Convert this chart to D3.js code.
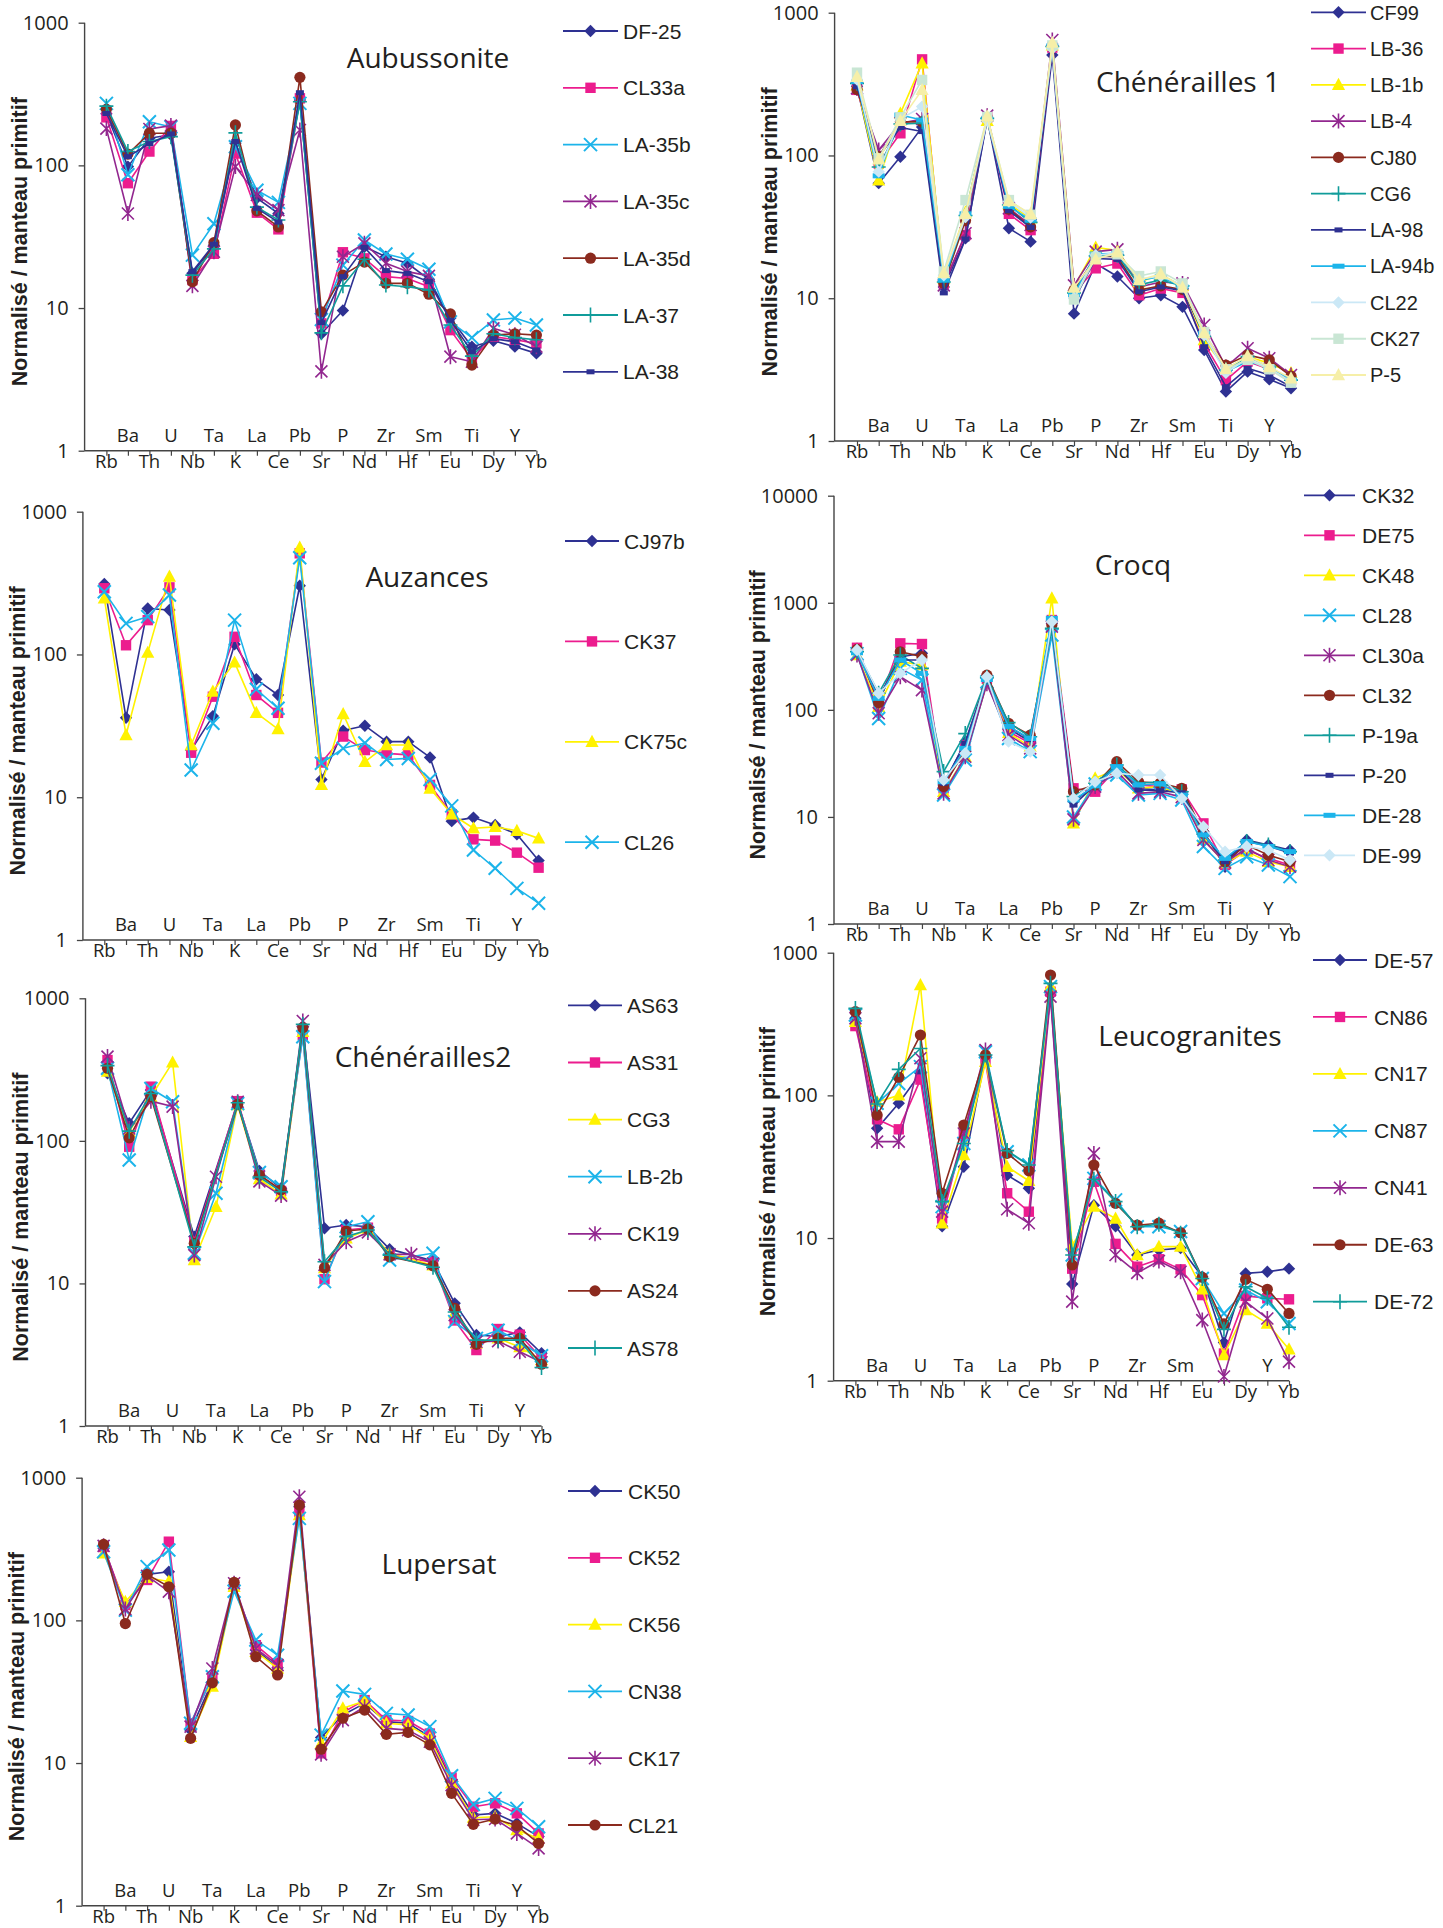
<!DOCTYPE html>
<html>
<head>
<meta charset="utf-8">
<script src="https://cdn.jsdelivr.net/npm/d3@7"></script>
<style>
  body { margin: 0; background: #fff; }
  svg { display: block; }
</style>
</head>
<body>
<svg id="chart" width="1443" height="1928"></svg>
<script>
// Trace elements, in spider-diagram order (normalised to primitive mantle)
const elements = ["Rb","Ba","Th","U","Nb","Ta","K","La","Ce","Pb","Sr","P","Nd","Zr","Hf","Sm","Eu","Ti","Dy","Y","Yb"];
const tickValues3 = [1, 10, 100, 1000];
const tickValues4 = [1, 10, 100, 1000, 10000];

// ---- Aubussonite ----
const aubussoniteSamples = ["DF-25","CL33a","LA-35b","LA-35c","LA-35d","LA-37","LA-38"];
const aubussoniteValues = [
  [230, 98, 155, 164, 17.5, 27.5, 143, 59, 46, 287, 6.6, 9.6, 26.9, 22.9, 20.6, 15.9, 8.5, 5.36, 5.9, 5.36, 4.81],
  [217, 75, 125, 189, 15.7, 24, 121, 46.6, 35.6, 295, 7.8, 24.6, 22.3, 16.6, 16.1, 14.1, 7.0, 4.37, 6.3, 6.0, 5.65],
  [272, 86, 202, 186, 23.5, 39, 135, 67, 55, 272, 8.3, 20, 30, 23.9, 22, 18.7, 8.0, 6.2, 8.24, 8.5, 7.6],
  [181, 46, 180, 190, 14.3, 24.8, 98, 62, 48.6, 177, 3.6, 22.9, 28.4, 20.6, 18, 16.8, 4.56, 4.2, 7.2, 6.5, 5.36],
  [247, 120, 168, 168, 15.3, 28.7, 192, 48, 37, 414, 9.4, 17, 21, 14.9, 14.9, 12.5, 9.1, 3.98, 6.46, 6.6, 6.46],
  [260, 125, 147, 159, 17, 26, 169, 51, 41.4, 279, 6.7, 14.3, 22, 14.5, 14.1, 13.4, 7.6, 4.6, 6.6, 6.2, 6.0],
  [231, 115, 142, 166, 18, 28, 147, 50, 40, 323, 7.9, 16.6, 26.6, 18.3, 17.5, 15.3, 8.2, 4.94, 6.1, 5.8, 5.08]
];

// ---- Chénérailles 1 ----
const chenerailles1Samples = ["CF99","LB-36","LB-1b","LB-4","CJ80","CG6","LA-98","LA-94b","CL22","CK27","P-5"];
const chenerailles1Values = [
  [305, 64, 98, 158, 12, 26.3, 183, 30.9, 24.9, 505, 7.8, 17.5, 14.2, 10, 10.5, 8.7, 4.34, 2.22, 3.06, 2.7, 2.34],
  [288, 88, 143, 471, 12.7, 27.7, 185, 39, 30, 570, 10.8, 16.2, 17.5, 10.5, 11.7, 10.9, 4.83, 2.67, 3.6, 3.18, 2.67],
  [310, 67, 197, 442, 13.8, 40, 175, 45.7, 36.3, 590, 12, 22.7, 21.6, 13, 14.6, 12.2, 5.1, 3.2, 3.9, 3.5, 3.0],
  [295, 109, 168, 180, 12.3, 28.5, 190, 42.6, 32.6, 644, 12.3, 21.2, 22, 12, 13, 12.7, 6.5, 3.3, 4.46, 3.8, 2.9],
  [290, 98, 172, 172, 12.7, 35, 185, 42, 31.6, 575, 11.4, 19.6, 19.6, 11.4, 12.2, 11.5, 5.52, 3.4, 4.0, 3.7, 2.85],
  [320, 83, 166, 168, 13, 38, 182, 45, 34, 580, 10.9, 19.8, 20, 12.4, 13.4, 12.2, 5.4, 3.14, 3.9, 3.3, 2.67],
  [303, 98, 157, 147, 10.9, 26, 178, 41, 31.3, 560, 9.7, 19, 18.7, 11.1, 12, 11.3, 4.58, 2.4, 3.23, 2.9, 2.4],
  [330, 72, 192, 177, 13.4, 39, 180, 44, 35.3, 585, 10.6, 20.4, 20.6, 13.3, 14.2, 12, 5.67, 3.07, 3.6, 3.28, 2.67],
  [340, 77, 180, 220, 14.5, 37, 176, 47.5, 36.8, 560, 10, 20, 20.8, 13.6, 14.3, 12.4, 5.5, 3.0, 3.8, 3.23, 2.6],
  [380, 95.5, 185, 338, 15.4, 48.7, 186, 48.7, 38.4, 590, 9.8, 19.3, 20.3, 14.3, 15.4, 12.7, 5.8, 3.18, 3.7, 3.18, 2.56],
  [356, 94, 175, 288, 15, 39, 188, 48, 39, 617, 11.9, 18.7, 21, 13.4, 14.8, 11.9, 5.7, 3.2, 3.94, 3.3, 2.75]
];

// ---- Auzances ----
const auzancesSamples = ["CJ97b","CK37","CK75c","CL26"];
const auzancesValues = [
  [312, 36, 210, 205, 21.4, 37, 118, 67, 52, 303, 13.3, 29.3, 31.7, 24.5, 24.5, 19, 6.8, 7.2, 6.4, 5.5, 3.6],
  [291, 116, 174, 295, 20.5, 50.6, 133, 52, 39, 511, 17.5, 26.6, 21.4, 20.3, 19.8, 12.2, 7.6, 5.07, 4.97, 4.09, 3.21],
  [247, 27.3, 103, 351, 23.2, 55, 88, 39, 30, 562, 12.2, 38.3, 17.7, 23.2, 23.2, 11.5, 7.6, 6.06, 6.2, 5.83, 5.15],
  [275, 165, 184, 261, 15.5, 33, 174, 57, 42, 476, 17.3, 22, 24, 18.4, 18.7, 13.3, 8.7, 4.27, 3.18, 2.3, 1.81]
];

// ---- Crocq ----
const crocqSamples = ["CK32","DE75","CK48","CL28","CL30a","CL32","P-19a","P-20","DE-28","DE-99"];
const crocqValues = [
  [373, 124, 314, 337, 19.9, 50.4, 195, 67, 50.4, 643, 13.9, 19.9, 29.5, 18.5, 17.8, 17.2, 7.3, 3.43, 6.1, 5.47, 4.9],
  [380, 113, 418, 412, 18.5, 47, 195, 62.5, 48.7, 690, 18.5, 17.2, 28.4, 19.9, 19.2, 18.1, 8.7, 3.56, 4.9, 4.1, 3.56],
  [325, 107, 282, 262, 17.2, 36.5, 177, 61, 45.3, 1100, 8.7, 23, 27.8, 18.5, 19.2, 16, 6.2, 3.7, 4.74, 3.82, 3.43],
  [335, 83, 244, 190, 16, 34, 183, 54, 40.7, 500, 10, 20.3, 24.6, 16, 16.6, 14.4, 5.3, 3.31, 4.25, 3.56, 2.77],
  [325, 93, 204, 153, 16.6, 36.5, 175, 58, 43.7, 598, 9.5, 19.2, 26.5, 16.6, 17.2, 15.3, 6.1, 3.74, 5.1, 3.96, 3.43],
  [367, 117, 349, 314, 19.3, 42, 211, 75, 58, 620, 17.2, 19.9, 32.8, 21.3, 20.6, 18.5, 7.1, 3.82, 5.47, 4.4, 3.82],
  [350, 143, 325, 244, 26.5, 60, 200, 76, 56, 577, 15.5, 20.6, 30.5, 20.6, 21.3, 17.2, 6.9, 3.96, 5.9, 5.47, 4.74],
  [358, 133, 292, 292, 20.6, 48.7, 190, 70, 53, 666, 12.9, 19.9, 29.5, 17.9, 17.6, 16.8, 6.9, 3.82, 5.9, 5.35, 4.6],
  [341, 128, 292, 219, 21.3, 43.7, 192, 70, 54, 716, 14.4, 19.5, 29.5, 19.9, 20.3, 16, 6.8, 4.1, 5.9, 5.3, 4.74],
  [362, 143, 219, 292, 22.1, 39.3, 204, 50.5, 40.7, 666, 14.9, 21.3, 25.5, 24.6, 24.6, 14.9, 8.1, 4.74, 5.3, 4.9, 3.96]
];

// ---- Chénérailles2 (null = not analysed) ----
const chenerailles2Samples = ["AS63","AS31","CG3","LB-2b","CK19","AS24","AS78"];
const chenerailles2Values = [
  [298, 133, 227, null, 21.3, null, 186, 61.5, 46.5, 630, 24.4, 25.7, 25, 17.4, null, 14.4, 7.25, 4.35, 4.24, 4.54, 3.24],
  [369, 91, 240, null, 19.6, null, 190, 58, 44.5, 553, 10.7, 23.7, 24.6, 15.8, null, 14.1, 5.5, 3.41, 4.79, 4.37, 2.98],
  [306, 116, 204, 355, 14.6, 34.5, 178, 54, 42.2, 583, 12.8, 20.7, 23.7, 16.3, null, 13.4, 6.2, 3.8, 4.12, 3.58, 2.9],
  [323, 73.5, 233, 188, 16.3, 42.9, 183, 60, 47.7, 538, 10.3, 25, 27.1, 14.6, null, 16.3, 5.4, 4.12, 4.7, 3.9, 3.11],
  [390, 122, 190, 174, 15.8, 56, 188, 52, 41.3, 693, 13.5, 19.6, 22.8, 16, 16, 13.8, 6.0, 3.9, 3.94, 3.32, 2.8],
  [323, 105, 204, null, 19.1, null, 180, 57.6, 45.3, 622, 12.9, 23.3, 24.1, 15.4, null, 13.3, 6.7, 3.74, 4.12, 4.12, 2.71],
  [337, 117, 215, null, 18.1, null, 185, 55.8, 44, 656, 14.2, 21.3, 23.7, 15.8, null, 13, 6.3, 4.0, 4.0, 4.0, 2.57]
];

// ---- Leucogranites ----
const leucograniteSamples = ["DE-57","CN86","CN17","CN87","CN41","DE-63","DE-72"];
const leucograniteValues = [
  [347, 58.7, 88, 143, 12.1, 31.6, 187, 27.6, 22.3, 505, 4.76, 17, 12.1, 7.6, 8.24, 8.5, 5.36, 1.85, 5.65, 5.8, 6.1],
  [306, 68, 57.8, 129, 13.7, 53.6, 172, 20.6, 15.3, 533, 6.1, 24.8, 9.1, 6.3, 7.1, 6.03, 3.98, 1.55, 3.93, 3.78, 3.72],
  [328, 90, 100, 593, 12.7, 38.2, 172, 31.6, 25.2, 584, 8.8, 16.6, 13.7, 7.6, 8.7, 8.7, 4.37, 1.51, 3.13, 2.52, 1.66],
  [366, 88, 121, 159, 16.6, 46, 202, 40.3, 32.5, 578, 7.6, 26.2, 18.5, 12, 12, 11.1, 5.2, 2.96, 4.32, 3.58, 2.52],
  [347, 47.4, 47.4, 182, 15.3, 54, 208, 15.9, 12.7, 492, 3.58, 39.2, 7.6, 5.7, 6.9, 5.8, 2.66, 1.07, 3.58, 2.73, 1.36],
  [386, 72.8, 134, 265, 20.6, 62, 192, 39.2, 29.6, 697, 6.47, 32.5, 17.5, 12.3, 12.7, 10.9, 5.3, 2.5, 5.13, 4.37, 2.96],
  [407, 87, 152, 213, 18, 46, 192, 41, 32.5, 610, 7.6, 25.8, 18, 12, 12.5, 10.8, 5.2, 2.29, 4.56, 3.78, 2.37]
];

// ---- Lupersat ----
const lupersatSamples = ["CK50","CK52","CK56","CN38","CK17","CL21"];
const lupersatValues = [
  [320, 125, 210, 219, 17, 37.2, 177, 62, 46.6, 626, 15.1, 21.7, 26.2, 19.5, 19, 15.3, 7.6, 4.32, 4.44, 3.78, 3.05],
  [327, 128, 192, 356, 19, 39.6, 172, 67, 50, 578, 11.7, 22.6, 27.6, 20, 19.7, 16.1, 7.9, 4.94, 5.22, 4.44, 3.21],
  [295, 135, 199, 187, 15.3, 34.3, 172, 60.3, 46, 547, 13.7, 24.2, 27.2, 19, 18.5, 14.9, 7.2, 4.14, 4.2, 3.39, 2.96],
  [303, 118, 238, 311, 19, 40.3, 160, 72.8, 57, 519, 15.7, 32, 30.3, 22.3, 21.7, 18, 8.15, 5.13, 5.65, 4.81, 3.58],
  [333, 120, 205, 159, 18, 46, 182, 63.6, 48.6, 736, 11.5, 20, 24.8, 17.5, 17, 14.1, 7.0, 4.0, 4.05, 3.21, 2.52],
  [341, 95, 210, 172, 14.9, 36.5, 185, 55.6, 41.4, 643, 12.5, 20.6, 23.5, 15.9, 16.4, 13.4, 6.13, 3.72, 4.05, 3.64, 2.73]
];

// Axis labels of the leucogranite panel: the Ti label is not shown there
const leucograniteAxisLabels = elements.map(e => e === "Ti" ? "" : e);

// ---- Marker / line styles ----
const STYLE = {
  navyDiamond:   { color: "#2e3192", shape: "diamond" },
  magentaSquare: { color: "#ec1c8e", shape: "square" },
  yellowTri:     { color: "#fff200", shape: "triangle" },
  cyanX:         { color: "#1cb4ea", shape: "x" },
  purpleStar:    { color: "#92278f", shape: "star" },
  brownCircle:   { color: "#8b2a1e", shape: "circle" },
  tealPlus:      { color: "#109c9a", shape: "plus" },
  navyDash:      { color: "#2e3192", shape: "dash" },
  cyanDash:      { color: "#1cb4ea", shape: "wideDash" },
  paleDiamond:   { color: "#cbe8f6", shape: "diamond" },
  paleSquare:    { color: "#c9e6d4", shape: "square" },
  paleTri:       { color: "#f6efa8", shape: "triangle" }
};

const TEXT = "#231f20";
const NUM_FONT = "'Open Sans', 'Noto Sans', sans-serif";
const LEG_FONT = "'Liberation Sans', Arial, sans-serif";

const panels = [
  { title: "Aubussonite", samples: aubussoniteSamples, values: aubussoniteValues,
    styles: ["navyDiamond","magentaSquare","cyanX","purpleStar","brownCircle","tealPlus","navyDash"],
    axisX: 84.6, x0: 106.4, x1: 536.4, yTop: 22.7, yBot: 450.7, domain: [1, 1000], ticks: tickValues3,
    titleX: 428, titleY: 68, ytX: 20,
    legend: { x1: 563, x2: 618, tx: 623, y0: 31, step: 56.8, fs: 21 } },
  { title: "Chénérailles 1", samples: chenerailles1Samples, values: chenerailles1Values,
    styles: ["navyDiamond","magentaSquare","yellowTri","purpleStar","brownCircle","tealPlus","navyDash","cyanDash","paleDiamond","paleSquare","paleTri"],
    axisX: 834.6, x0: 857, x1: 1291, yTop: 12.7, yBot: 441, domain: [1, 1000], ticks: tickValues3,
    titleX: 1188, titleY: 92, ytX: 769.5,
    legend: { x1: 1311, x2: 1366, tx: 1370, y0: 12.3, step: 36.27, fs: 20 } },
  { title: "Auzances", samples: auzancesSamples, values: auzancesValues,
    styles: ["navyDiamond","magentaSquare","yellowTri","cyanX"],
    axisX: 82.9, x0: 104.3, x1: 538.6, yTop: 511.7, yBot: 940, domain: [1, 1000], ticks: tickValues3,
    titleX: 427, titleY: 587, ytX: 18,
    legend: { x1: 565, x2: 619, tx: 624, y0: 541, step: 100.4, fs: 21 } },
  { title: "Crocq", samples: crocqSamples, values: crocqValues,
    styles: ["navyDiamond","magentaSquare","yellowTri","cyanX","purpleStar","brownCircle","tealPlus","navyDash","cyanDash","paleDiamond"],
    axisX: 834, x0: 857, x1: 1290, yTop: 495.7, yBot: 924, domain: [1, 10000], ticks: tickValues4,
    titleX: 1133, titleY: 575, ytX: 758,
    legend: { x1: 1304, x2: 1355, tx: 1362, y0: 495.3, step: 40.0, fs: 21 } },
  { title: "Chénérailles2", samples: chenerailles2Samples, values: chenerailles2Values,
    styles: ["navyDiamond","magentaSquare","yellowTri","cyanX","purpleStar","brownCircle","tealPlus"],
    axisX: 85.5, x0: 107.5, x1: 541.5, yTop: 998.3, yBot: 1426, domain: [1, 1000], ticks: tickValues3,
    titleX: 423, titleY: 1067, ytX: 20.5,
    legend: { x1: 568, x2: 622, tx: 627, y0: 1005.4, step: 57.1, fs: 21 } },
  { title: "Leucogranites", samples: leucograniteSamples, values: leucograniteValues, labels: leucograniteAxisLabels,
    styles: ["navyDiamond","magentaSquare","yellowTri","cyanX","purpleStar","brownCircle","tealPlus"],
    axisX: 833.6, x0: 855.4, x1: 1289, yTop: 952.7, yBot: 1380.7, domain: [1, 1000], ticks: tickValues3,
    titleX: 1190, titleY: 1046, ytX: 768,
    legend: { x1: 1313, x2: 1367, tx: 1374, y0: 960, step: 56.95, fs: 21 } },
  { title: "Lupersat", samples: lupersatSamples, values: lupersatValues,
    styles: ["navyDiamond","magentaSquare","yellowTri","cyanX","purpleStar","brownCircle"],
    axisX: 82.1, x0: 103.6, x1: 538.6, yTop: 1477.7, yBot: 1905.7, domain: [1, 1000], ticks: tickValues3,
    titleX: 439, titleY: 1574, ytX: 17,
    legend: { x1: 568, x2: 622, tx: 628, y0: 1491, step: 66.8, fs: 21 } }
];

const svg = d3.select("#chart");

function marker(g, style, x, y) {
  const c = style.color;
  const m = g.append("g").attr("transform", `translate(${x},${y})`);
  switch (style.shape) {
    case "diamond":
      m.append("path").attr("d", "M0,-6.2L6.2,0L0,6.2L-6.2,0Z").attr("fill", c); break;
    case "square":
      m.append("rect").attr("x", -5.2).attr("y", -5.2).attr("width", 10.4).attr("height", 10.4).attr("fill", c); break;
    case "triangle":
      m.append("path").attr("d", "M0,-7L6.6,5.2L-6.6,5.2Z").attr("fill", c); break;
    case "circle":
      m.append("circle").attr("r", 5.6).attr("fill", c); break;
    case "x":
      m.append("path").attr("d", "M-6.5,-6.5L6.5,6.5M-6.5,6.5L6.5,-6.5")
        .attr("stroke", c).attr("stroke-width", 2).attr("fill", "none"); break;
    case "star":
      m.append("path").attr("d", "M-6,-6L6,6M-6,6L6,-6M0,-7.5L0,7.5")
        .attr("stroke", c).attr("stroke-width", 1.6).attr("fill", "none"); break;
    case "plus":
      m.append("path").attr("d", "M0,-7.5L0,7.5M-7,0L7,0")
        .attr("stroke", c).attr("stroke-width", 1.6).attr("fill", "none"); break;
    case "dash":
      m.append("rect").attr("x", -4).attr("y", -2.5).attr("width", 8).attr("height", 5).attr("fill", c); break;
    case "wideDash":
      m.append("rect").attr("x", -6).attr("y", -2.5).attr("width", 12).attr("height", 5).attr("fill", c); break;
  }
}

function drawPanel(p) {
  const g = svg.append("g");
  const labels = p.labels || elements;
  const x = d3.scalePoint().domain(elements).range([p.x0, p.x1]);
  const y = d3.scaleLog().domain(p.domain).range([p.yBot, p.yTop]);

  // Y axis
  const yAxis = g.append("g").attr("transform", `translate(${p.axisX},0)`)
    .call(d3.axisLeft(y).tickValues(p.ticks).tickFormat(d3.format("d")).tickSize(6).tickPadding(10));
  yAxis.select(".domain").remove();
  yAxis.selectAll(".tick line").attr("stroke", "#444").attr("stroke-width", 1.3);
  yAxis.selectAll(".tick text").attr("font-family", NUM_FONT).attr("font-size", 20).attr("fill", TEXT);
  g.append("line").attr("x1", p.axisX).attr("x2", p.axisX)
    .attr("y1", y(p.domain[1])).attr("y2", y(p.domain[0]))
    .attr("stroke", "#444").attr("stroke-width", 1.4);

  // X axis: ticks at each element, labels alternating in two rows
  const xAxis = g.append("g").attr("transform", `translate(0,${p.yBot})`)
    .call(d3.axisBottom(x).tickSize(5).tickFormat(""));
  xAxis.select(".domain").remove();
  xAxis.selectAll(".tick line").attr("stroke", "#444").attr("stroke-width", 1.2);
  g.append("line").attr("x1", p.axisX).attr("x2", x(elements[elements.length - 1]))
    .attr("y1", p.yBot).attr("y2", p.yBot)
    .attr("stroke", "#444").attr("stroke-width", 1.4);
  elements.forEach((e, i) => {
    g.append("text")
      .attr("x", x(e))
      .attr("y", i % 2 === 0 ? p.yBot + 17 : p.yBot - 9)
      .attr("text-anchor", "middle")
      .attr("font-family", NUM_FONT).attr("font-size", 18.5).attr("fill", TEXT)
      .text(labels[i]);
  });

  // Y axis title
  const cy = (p.yTop + p.yBot) / 2 + 5;
  g.append("text")
    .attr("transform", `translate(${p.ytX},${cy}) rotate(-90)`)
    .attr("text-anchor", "middle").attr("dominant-baseline", "central")
    .attr("font-family", LEG_FONT).attr("font-weight", "bold").attr("font-size", 21.5).attr("fill", TEXT)
    .text("Normalisé / manteau primitif");

  // Panel title
  g.append("text").attr("x", p.titleX).attr("y", p.titleY)
    .attr("text-anchor", "middle")
    .attr("font-family", NUM_FONT).attr("font-size", 28).attr("fill", TEXT)
    .text(p.title);

  // Series: line then markers, in legend order
  const line = d3.line().x(d => x(d.el)).y(d => y(d.v));
  p.values.forEach((row, si) => {
    const st = STYLE[p.styles[si]];
    const pts = row.map((v, i) => ({ el: elements[i], v })).filter(d => d.v != null);
    g.append("path").datum(pts).attr("d", line)
      .attr("fill", "none").attr("stroke", st.color).attr("stroke-width", 1.6)
      .attr("stroke-linejoin", "round");
    pts.forEach(d => marker(g, st, x(d.el), y(d.v)));
  });

  // Legend
  const L = p.legend;
  p.samples.forEach((name, si) => {
    const st = STYLE[p.styles[si]];
    const ly = L.y0 + si * L.step;
    g.append("line").attr("x1", L.x1).attr("x2", L.x2).attr("y1", ly).attr("y2", ly)
      .attr("stroke", st.color).attr("stroke-width", 1.8);
    marker(g, st, (L.x1 + L.x2) / 2, ly);
    g.append("text").attr("x", L.tx).attr("y", ly).attr("dy", "0.36em")
      .attr("font-family", LEG_FONT).attr("font-size", L.fs).attr("fill", TEXT)
      .text(name);
  });
}

panels.forEach(drawPanel);
</script>
</body>
</html>
